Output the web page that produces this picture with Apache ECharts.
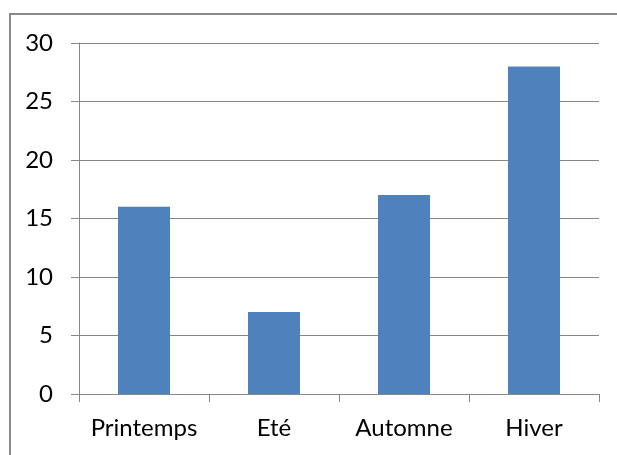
<!DOCTYPE html>
<html><head><meta charset="utf-8">
<script src="https://cdn.jsdelivr.net/npm/echarts@6/dist/echarts.min.js"></script>
<style>
html,body{margin:0;padding:0;background:#fff;overflow:hidden;}
#frame{position:absolute;left:9px;top:13px;width:700px;height:500px;border:2px solid #8a8a8a;box-sizing:border-box;}
#c{position:absolute;left:0;top:0;width:617px;height:455px;}
</style></head><body>
<div id="frame"></div>
<div id="c"></div>
<script>
const categories = ["Printemps", "Eté", "Automne", "Hiver"];
const values = [16, 7, 17, 28];
const yMin = 0, yMax = 30, yStep = 5;

const chart = echarts.init(document.getElementById('c'));
chart.setOption({
  animation: false,
  grid: {left: 79, right: 18, top: 43, bottom: 61},
  xAxis: {
    type: 'category', data: categories,
    axisLine: {lineStyle: {color: '#868686', width: 1}},
    axisTick: {show: true, length: 8, interval: 0, lineStyle: {color: '#868686'}},
    axisLabel: {color: '#000', fontFamily: 'Lato', fontSize: 24, margin: 22, interval: 0, hideOverlap: false}
  },
  yAxis: {
    type: 'value', min: yMin, max: yMax, interval: yStep,
    axisLine: {show: true, lineStyle: {color: '#868686', width: 1}},
    axisTick: {show: true, length: 8, lineStyle: {color: '#868686'}},
    splitLine: {lineStyle: {color: '#868686', width: 1}},
    axisLabel: {color: '#000', fontFamily: 'Lato', fontSize: 24, margin: 26}
  },
  series: [{
    type: 'bar', data: values, barWidth: '40%',
    itemStyle: {color: '#4F81BD'}
  }]
});
</script>
</body></html>
